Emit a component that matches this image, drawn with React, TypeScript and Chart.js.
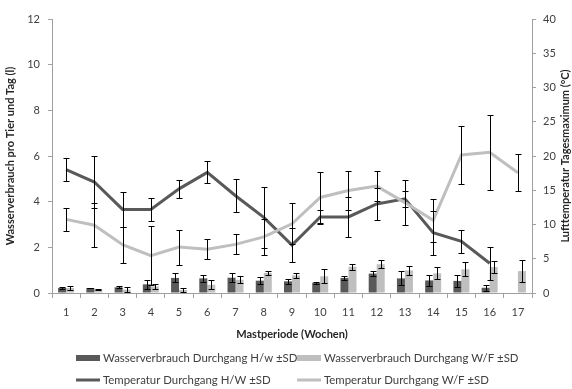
import React, { useEffect, useRef } from "react";
import { Chart, registerables } from "chart.js";

Chart.register(...registerables);

const weeks = ["1", "2", "3", "4", "5", "6", "7", "8", "9", "10", "11", "12", "13", "14", "15", "16", "17"];

const waterHW = [0.22, 0.22, 0.25, 0.38, 0.66, 0.64, 0.67, 0.54, 0.51, 0.45, 0.66, 0.85, 0.64, 0.55, 0.53, 0.23, null];
const waterHWsd = [0.03, 0.02, 0.05, 0.19, 0.2, 0.17, 0.19, 0.15, 0.11, 0.04, 0.08, 0.1, 0.31, 0.24, 0.26, 0.14, null];
const waterWF = [0.22, 0.16, 0.15, 0.29, 0.13, 0.36, 0.58, 0.88, 0.77, 0.73, 1.15, 1.26, 0.99, 0.86, 1.04, 1.14, 0.96];
const waterWFsd = [0.08, 0.02, 0.1, 0.1, 0.07, 0.19, 0.15, 0.07, 0.12, 0.3, 0.14, 0.18, 0.2, 0.26, 0.31, 0.26, 0.47];

const tempHW = [18.0, 16.2, 12.2, 12.2, 15.2, 17.6, 14.2, 11.05, 7.0, 11.1, 11.1, 13.0, 13.75, 8.8, 7.55, 4.35, null];
const tempHWsd = [1.7, 3.8, 2.5, 1.7, 1.35, 1.6, 2.4, 4.45, 2.45, 1.0, 2.9, 2.35, 1.15, 3.2, 1.7, 2.4, null];
const tempWF = [10.75, 9.9, 7.05, 5.45, 6.7, 6.4, 7.1, 8.2, 10.1, 13.95, 14.95, 15.6, 13.2, 10.6, 20.15, 20.55, 17.55];
const tempWFsd = [1.65, 3.2, 2.6, 4.3, 2.55, 1.45, 1.45, 2.65, 3.0, 3.75, 2.9, 2.2, 3.3, 3.1, 4.25, 5.5, 2.7];

const leftTicks = [0, 2, 4, 6, 8, 10, 12];
const rightTicks = [0, 5, 10, 15, 20, 25, 30, 35, 40];

const labelWaterHW = "Wasserverbrauch Durchgang H/w ±SD";
const labelWaterWF = "Wasserverbrauch Durchgang W/F ±SD";
const labelTempHW = "Temperatur Durchgang H/W ±SD";
const labelTempWF = "Temperatur Durchgang W/F ±SD";
const xTitle = "Mastperiode (Wochen)";
const yLeftTitle = "Wasserverbrauch pro Tier und Tag (l)";
const yRightTitle = "Lufttemperatur Tagesmaximum (°C)";

const DARK = "#595959";
const LIGHT = "#bfbfbf";
const AXIS = "#a0a0a0";
const TEXT = "#404040";
const FONT = "Lato, 'Open Sans', sans-serif";

const errorBarPlugin = {
  id: "errorBars",
  afterDatasetsDraw(chart: any) {
    const ctx = chart.ctx;
    ctx.save();
    ctx.strokeStyle = "#000000";
    ctx.lineWidth = 1;
    chart.data.datasets.forEach((ds: any, i: number) => {
      const sd = ds.sd;
      if (!sd) return;
      const meta = chart.getDatasetMeta(i);
      const yScale = chart.scales[meta.yAxisID];
      meta.data.forEach((el: any, j: number) => {
        const v = ds.data[j];
        const e = sd[j];
        if (v == null || e == null) return;
        const x = Math.round(el.x) + 0.5;
        const yT = Math.round(yScale.getPixelForValue(v + e)) + 0.5;
        const yB = Math.round(yScale.getPixelForValue(v - e)) + 0.5;
        ctx.beginPath();
        ctx.moveTo(x, yT);
        ctx.lineTo(x, yB);
        ctx.moveTo(x - 3, yT);
        ctx.lineTo(x + 3, yT);
        ctx.moveTo(x - 3, yB);
        ctx.lineTo(x + 3, yB);
        ctx.stroke();
      });
    });
    ctx.restore();
  },
};

const legendAndTitlePlugin = {
  id: "customLegend",
  afterDraw(chart: any) {
    const ctx = chart.ctx;
    const area = chart.chartArea;
    ctx.save();
    // right axis title, reading bottom to top
    ctx.font = `bold 11px ${FONT}`;
    ctx.fillStyle = "#262626";
    ctx.textAlign = "center";
    ctx.textBaseline = "middle";
    ctx.translate(565, (area.top + area.bottom) / 2);
    ctx.rotate(-Math.PI / 2);
    ctx.fillText(yRightTitle, 0, 0);
    ctx.restore();

    ctx.save();
    ctx.font = `11.4px ${FONT}`;
    ctx.fillStyle = TEXT;
    ctx.textAlign = "left";
    ctx.textBaseline = "middle";
    const cols = [76, 297];
    const rows = [358, 380];
    const ds = chart.data.datasets;
    const items = [
      { d: ds[0], kind: "box", c: 0, r: 0 },
      { d: ds[1], kind: "box", c: 1, r: 0 },
      { d: ds[2], kind: "line", c: 0, r: 1 },
      { d: ds[3], kind: "line", c: 1, r: 1 },
    ];
    items.forEach((it) => {
      const x = cols[it.c];
      const y = rows[it.r];
      if (it.kind === "box") {
        ctx.fillStyle = it.d.backgroundColor;
        ctx.fillRect(x, y - 3, 24, 6);
      } else {
        ctx.strokeStyle = it.d.borderColor;
        ctx.lineWidth = 3;
        ctx.beginPath();
        ctx.moveTo(x, y);
        ctx.lineTo(x + 24, y);
        ctx.stroke();
      }
      ctx.fillStyle = TEXT;
      ctx.fillText(it.d.label, x + 27, y);
    });
    ctx.restore();
  },
};

export default function App() {
  const ref = useRef<HTMLCanvasElement | null>(null);

  useEffect(() => {
    if (!ref.current) return;
    const chart = new Chart(ref.current, {
      type: "bar",
      data: {
        labels: weeks,
        datasets: [
          {
            type: "bar",
            label: labelWaterHW,
            data: waterHW,
            sd: waterHWsd,
            backgroundColor: DARK,
            yAxisID: "y",
            order: 2,
            categoryPercentage: 0.567,
            barPercentage: 1,
          } as any,
          {
            type: "bar",
            label: labelWaterWF,
            data: waterWF,
            sd: waterWFsd,
            backgroundColor: LIGHT,
            yAxisID: "y",
            order: 2,
            categoryPercentage: 0.567,
            barPercentage: 1,
          } as any,
          {
            type: "line",
            label: labelTempHW,
            data: tempHW,
            sd: tempHWsd,
            borderColor: DARK,
            backgroundColor: DARK,
            borderWidth: 3,
            pointRadius: 0,
            tension: 0,
            yAxisID: "y1",
            order: 1,
          } as any,
          {
            type: "line",
            label: labelTempWF,
            data: tempWF,
            sd: tempWFsd,
            borderColor: LIGHT,
            backgroundColor: LIGHT,
            borderWidth: 3,
            pointRadius: 0,
            tension: 0,
            yAxisID: "y1",
            order: 0,
          } as any,
        ],
      },
      options: {
        responsive: false,
        animation: false,
        devicePixelRatio: 1,
        layout: { padding: { top: 19, left: 0, right: 0, bottom: 47.6 } },
        plugins: {
          legend: { display: false },
          tooltip: { enabled: false },
        },
        scales: {
          x: {
            type: "category",
            offset: true,
            grid: { display: true, offset: true, drawOnChartArea: false, drawTicks: true, tickLength: 5, color: AXIS },
            border: { display: true, color: AXIS },
            ticks: { color: TEXT, font: { family: FONT, size: 11 }, padding: 8, maxRotation: 0, autoSkip: false },
            title: {
              display: true,
              text: xTitle,
              color: "#262626",
              font: { family: FONT, size: 11, weight: "bold" },
              padding: { top: 1, bottom: 0 },
            },
          },
          y: {
            type: "linear",
            position: "left",
            min: 0,
            max: 12,
            afterBuildTicks: (s: any) => {
              s.ticks = leftTicks.map((v) => ({ value: v }));
            },
            grid: { display: true, drawOnChartArea: false, drawTicks: true, tickLength: 4, color: AXIS },
            border: { display: true, color: AXIS },
            ticks: { color: TEXT, font: { family: FONT, size: 11 }, padding: 8 },
            title: {
              display: true,
              text: yLeftTitle,
              color: "#262626",
              font: { family: FONT, size: 11, weight: "bold" },
              padding: { top: 4, bottom: 0 },
            },
            afterFit: (s: any) => {
              s.width = 52;
            },
          },
          y1: {
            type: "linear",
            position: "right",
            min: 0,
            max: 40,
            afterBuildTicks: (s: any) => {
              s.ticks = rightTicks.map((v) => ({ value: v }));
            },
            grid: { display: true, drawOnChartArea: false, drawTicks: true, tickLength: 4, color: AXIS },
            border: { display: true, color: AXIS },
            ticks: { color: TEXT, font: { family: FONT, size: 11 }, padding: 7 },
            afterFit: (s: any) => {
              s.width = 40;
            },
          },
        },
      } as any,
      plugins: [errorBarPlugin, legendAndTitlePlugin],
    });
    return () => chart.destroy();
  }, []);

  return (
    <div style={{ position: "fixed", left: 0, top: 0, width: 572, height: 389, background: "#fff" }}>
      <canvas ref={ref} width={572} height={389} style={{ display: "block", width: 572, height: 389 }} />
    </div>
  );
}
